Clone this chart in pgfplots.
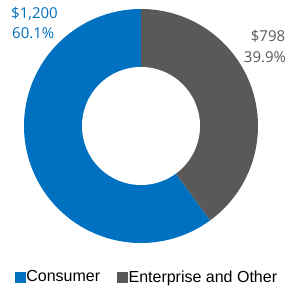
\documentclass[border=0pt]{standalone}
\usepackage{pgfplots}
\pgfplotsset{compat=1.18}
\usepackage{pgfplotstable}
\usepackage{fontspec}
\setmainfont{Liberation Sans}
\newfontfamily\labfont{Open Sans}
\definecolor{cblue}{HTML}{0070C0}
\definecolor{cgray}{HTML}{595959}
\pgfplotstableread{
label value
Consumer 1200
Enterprise 798
}\datatable
\begin{document}
\begin{tikzpicture}
\pgfplotstablegetelem{0}{value}\of\datatable \let\va\pgfplotsretval
\pgfplotstablegetelem{1}{value}\of\datatable \let\vb\pgfplotsretval
\pgfmathsetmacro\total{\va+\vb}
\pgfmathsetmacro\angA{90+360*(\va/\total)}
\pgfmathsetmacro\angB{90-360*(\vb/\total)}
\begin{axis}[
  x=1bp, y=1bp, xmin=0, xmax=290, ymin=0, ymax=290,
  hide axis, clip=false,
  legend columns=2,
  legend style={at={(axis cs:15,13)}, anchor=west, draw=none, fill=none,
    inner sep=0pt, outer sep=0pt,
    font=\fontsize{16bp}{19bp}\selectfont,
    nodes={inner sep=1bp},
    /tikz/every odd column/.style={column sep=0bp},
    /tikz/every even column/.style={column sep=16bp}},
  legend image code/.code={\fill[#1] (0bp,-5bp) rectangle (10bp,5bp);},
]
\fill[cblue] (axis cs:141,164) -- ++(90:117bp) arc[start angle=90, end angle=\angA, radius=117bp] -- cycle;
\fill[cgray] (axis cs:141,164) -- ++(\angB:117bp) arc[start angle=\angB, end angle=90, radius=117bp] -- cycle;
\fill[white] (axis cs:141,164) circle[radius=59bp];
\addlegendimage{cblue}
\addlegendentry{Consumer}
\addlegendimage{cgray}
\addlegendentry{Enterprise and Other}
\node[anchor=base west, inner sep=0, text=cblue, font=\labfont\fontsize{15bp}{18bp}\selectfont] at (axis cs:11,272) {\$1,200};
\node[anchor=base west, inner sep=0, text=cblue, font=\labfont\fontsize{15bp}{18bp}\selectfont] at (axis cs:12,252) {60.1\%};
\node[anchor=base, inner sep=0, text=cgray, font=\labfont\fontsize{15bp}{18bp}\selectfont] at (axis cs:268,249) {\$798};
\node[anchor=base, inner sep=0, text=cgray, font=\labfont\fontsize{15bp}{18bp}\selectfont] at (axis cs:265,228) {39.9\%};
\end{axis}
\pgfresetboundingbox
\path (0,0) rectangle (290bp,290bp);
\end{tikzpicture}
\end{document}
